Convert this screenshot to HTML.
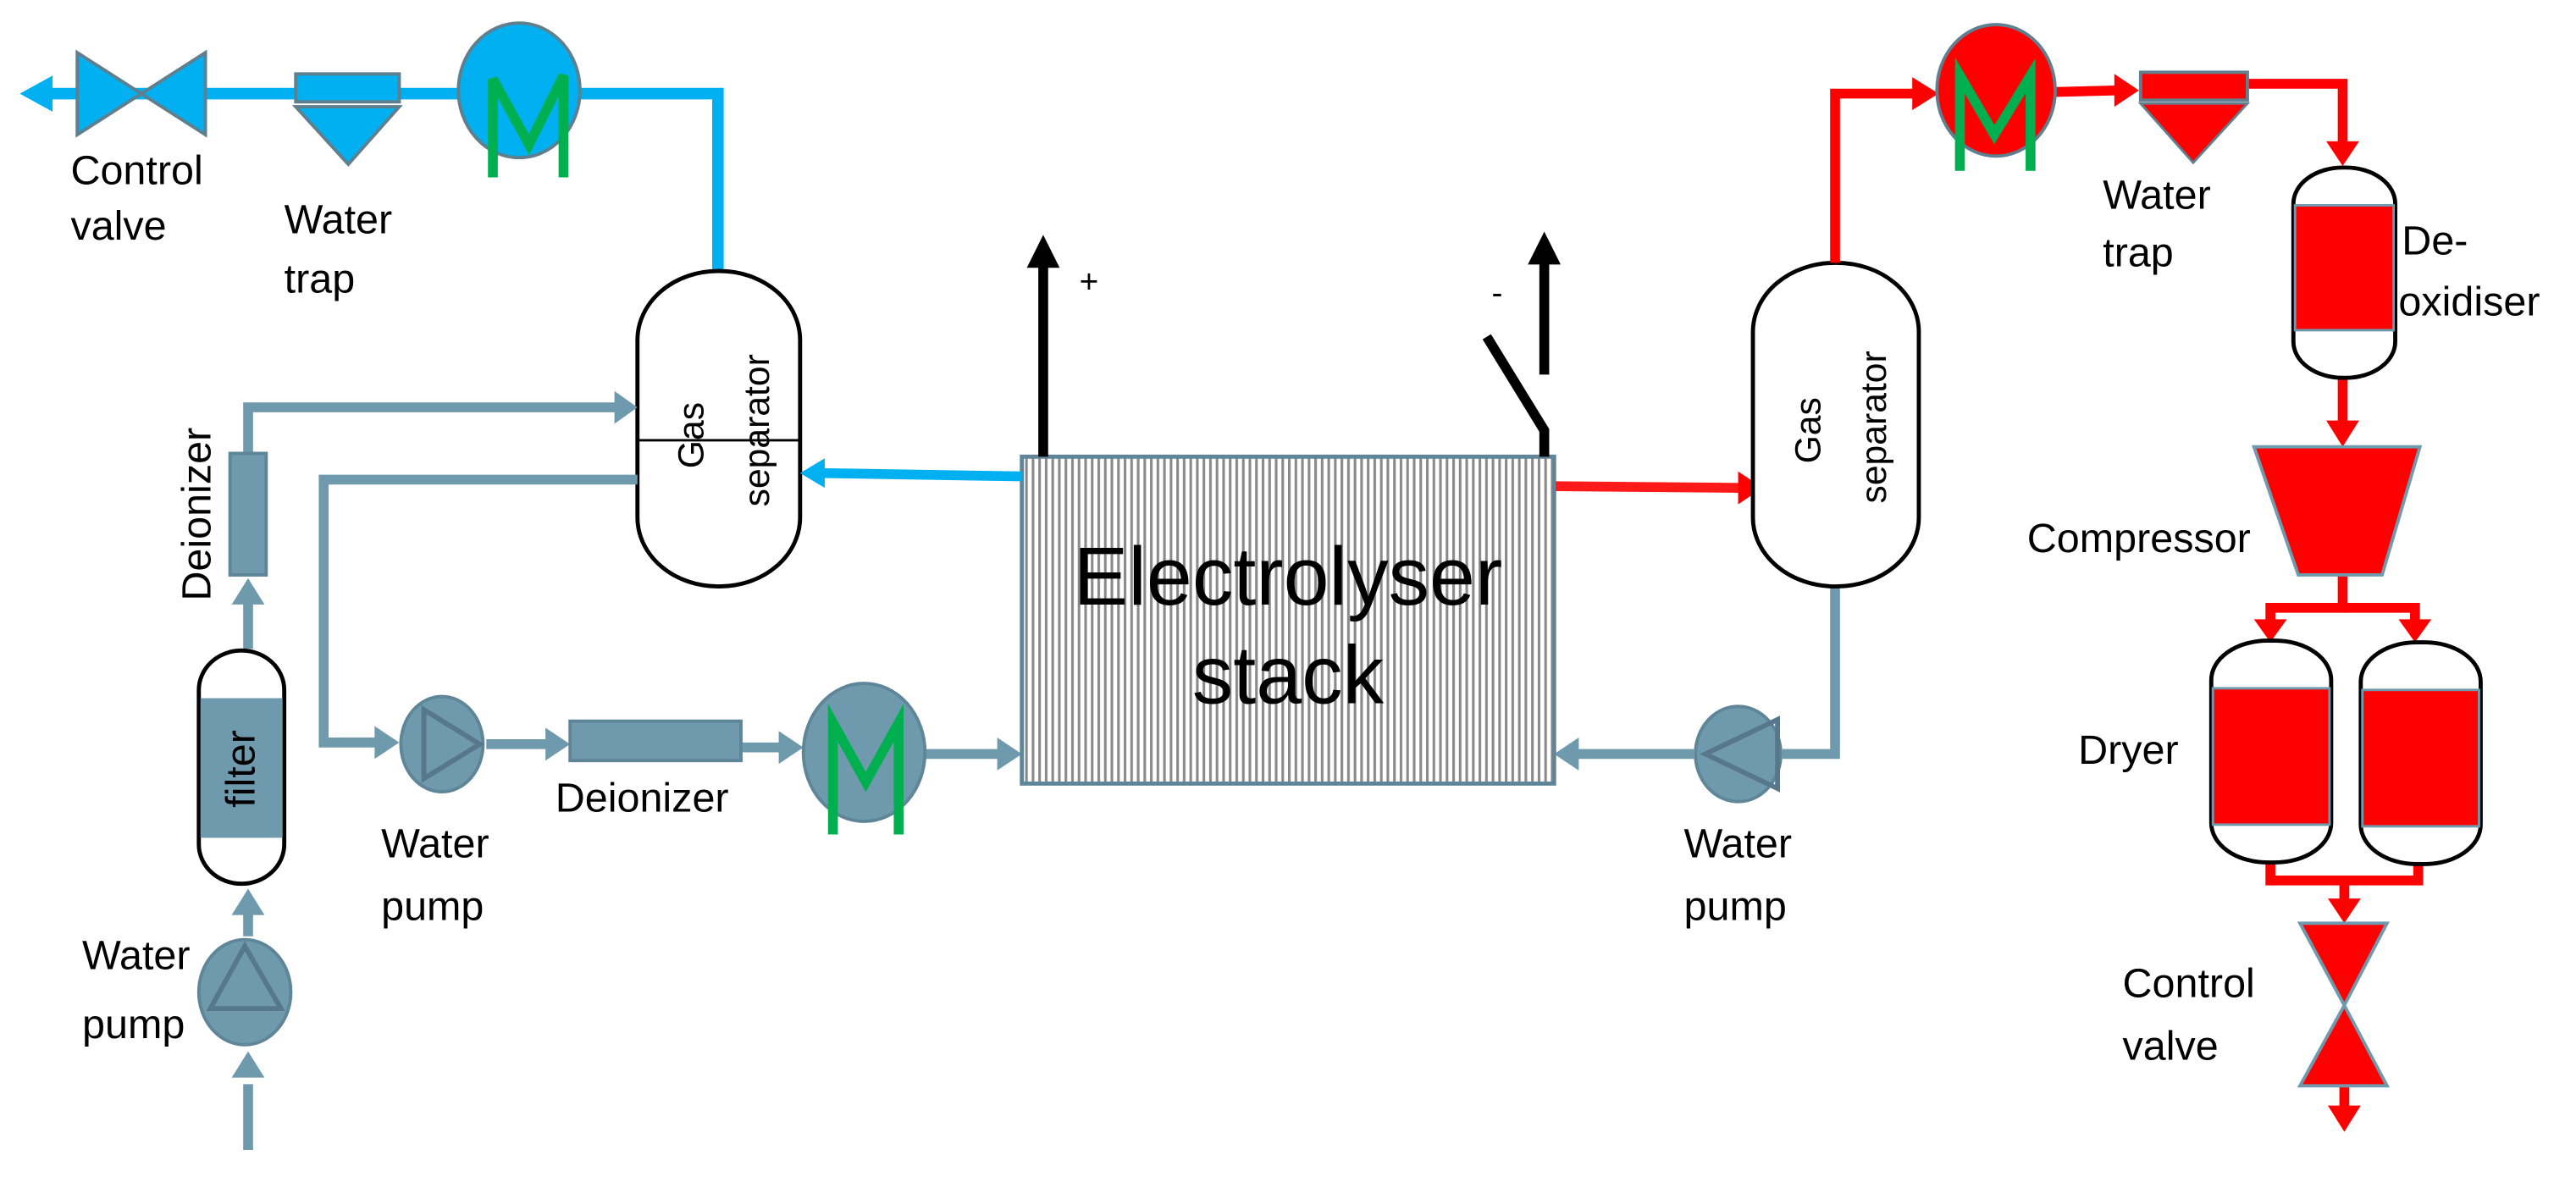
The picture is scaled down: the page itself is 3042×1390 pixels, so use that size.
<!DOCTYPE html>
<html><head><meta charset="utf-8"><style>html,body{margin:0;padding:0;background:#fff}svg{display:block}text{font-family:"Liberation Sans",sans-serif;fill:#000}</style></head><body>
<svg width="3042" height="1390" viewBox="0 0 1568 716.5" xmlns="http://www.w3.org/2000/svg">
<defs>
<pattern id="st" width="4" height="10" patternUnits="userSpaceOnUse"><rect width="4" height="10" fill="#fff"/><rect width="1.6" height="10" fill="#8a8a8a"/></pattern>
</defs>
<polyline points="30,57 437,57 437,170" fill="none" stroke="#00b0f0" stroke-width="7"/>
<polygon points="12,57 32,46 32,68" fill="#00b0f0"/>
<polygon points="47,32 86,57 47,82" fill="#00b0f0" stroke="#5f7f8f" stroke-width="2"/>
<polygon points="125,32 86,57 125,82" fill="#00b0f0" stroke="#5f7f8f" stroke-width="2"/>
<rect x="180" y="45" width="63" height="17" fill="#00b0f0" stroke="#5f7f8f" stroke-width="2"/>
<polygon points="180,65 243,65 212,100" fill="#00b0f0" stroke="#5f7f8f" stroke-width="2"/>
<ellipse cx="316" cy="55" rx="37" ry="41" fill="#00b0f0" stroke="#5f7f8f" stroke-width="2"/>
<polyline points="300,108 300,48 322,88 343,46 343,108" fill="none" stroke="#00b050" stroke-width="6"/>
<text x="43" y="112" font-size="25">Control</text>
<text x="43" y="146" font-size="25">valve</text>
<text x="173" y="142" font-size="25">Water</text>
<text x="173" y="178" font-size="25">trap</text>
<rect x="388" y="165" width="99" height="192" rx="49" ry="42" fill="#fff" stroke="#000" stroke-width="2.5"/>
<line x1="388" y1="268" x2="487" y2="268" stroke="#000" stroke-width="1.5"/>
<text transform="translate(428,265) rotate(-90)" font-size="22" text-anchor="middle">Gas</text>
<text transform="translate(468,262) rotate(-90)" font-size="22" text-anchor="middle">separator</text>
<g stroke="#6f9aae" stroke-width="6" fill="none">
<polyline points="151,276 151,248 376,248"/>
<polyline points="388,292 197,292 197,452 232,452"/>
<line x1="151" y1="395" x2="151" y2="365"/>
<line x1="151" y1="570" x2="151" y2="556"/>
<line x1="151" y1="700" x2="151" y2="660"/>
<line x1="296" y1="453" x2="335" y2="453"/>
<line x1="450" y1="455" x2="478" y2="455"/>
<line x1="563" y1="459" x2="610" y2="459"/>
<polyline points="1117,357 1117,459 1085,459"/>
<line x1="1031" y1="459" x2="958" y2="459"/>
</g>
<g fill="#6f9aae">
<polygon points="388,248 374,238 374,258"/>
<polygon points="151,352 141,368 161,368"/>
<polygon points="151,541 141,557 161,557"/>
<polygon points="151,640 141,656 161,656"/>
<polygon points="243,452 228,442 228,462"/>
<polygon points="347,453 332,443 332,463"/>
<polygon points="489,455 474,445 474,465"/>
<polygon points="622,459 607,449 607,469"/>
<polygon points="946,459 961,449 961,469"/>
</g>
<rect x="140" y="276" width="22" height="74" fill="#6f9aae" stroke="#5f8598" stroke-width="2"/>
<text transform="translate(128,313) rotate(-90)" font-size="25" text-anchor="middle">Deionizer</text>
<rect x="121" y="396" width="52" height="142" rx="26" ry="24" fill="#fff" stroke="#000" stroke-width="2.5"/>
<rect x="122" y="425" width="50" height="85" fill="#6f9aae"/>
<text transform="translate(155,468) rotate(-90)" font-size="25" text-anchor="middle">filter</text>
<ellipse cx="149" cy="604" rx="28" ry="32" fill="#6f9aae" stroke="#5f8598" stroke-width="2"/>
<polygon points="149,576 128,614 171,614" fill="none" stroke="#56788a" stroke-width="3"/>
<text x="50" y="590" font-size="25">Water</text>
<text x="50" y="632" font-size="25">pump</text>
<ellipse cx="269" cy="453" rx="25" ry="29" fill="#6f9aae" stroke="#5f8598" stroke-width="2"/>
<polygon points="258,432 292,453 258,474" fill="none" stroke="#56788a" stroke-width="3"/>
<text x="232" y="522" font-size="25">Water</text>
<text x="232" y="560" font-size="25">pump</text>
<rect x="347" y="439" width="104" height="24" fill="#6f9aae" stroke="#5f8598" stroke-width="2"/>
<text x="338" y="494" font-size="25">Deionizer</text>
<ellipse cx="526" cy="458" rx="37" ry="42" fill="#6f9aae" stroke="#5f8598" stroke-width="2"/>
<polyline points="507,508 507,440 527,476 547,440 547,508" fill="none" stroke="#00b050" stroke-width="6"/>
<ellipse cx="1058" cy="459" rx="26" ry="29" fill="#6f9aae" stroke="#5f8598" stroke-width="2"/>
<polygon points="1082,438 1038,459 1082,480" fill="none" stroke="#56788a" stroke-width="3"/>
<text x="1025" y="522" font-size="25">Water</text>
<text x="1025" y="560" font-size="25">pump</text>
<rect x="622" y="278" width="324" height="199" fill="url(#st)" stroke="#5f8598" stroke-width="2.5"/>
<text x="784" y="368" font-size="50" text-anchor="middle">Electrolyser</text>
<text x="784" y="428" font-size="50" text-anchor="middle">stack</text>
<line x1="635" y1="278" x2="635" y2="160" stroke="#000" stroke-width="6"/>
<polygon points="635,143 625,163 645,163" fill="#000"/>
<text x="657" y="178" font-size="20">+</text>
<polyline points="940,278 940,262 905,205" fill="none" stroke="#000" stroke-width="6"/>
<line x1="940" y1="228" x2="940" y2="158" stroke="#000" stroke-width="6"/>
<polygon points="940,141 930,161 950,161" fill="#000"/>
<text x="908" y="185" font-size="20">-</text>
<line x1="622" y1="290" x2="500" y2="288" stroke="#00b0f0" stroke-width="6"/>
<polygon points="487,288 502,279 502,297" fill="#00b0f0"/>
<line x1="947" y1="296" x2="1060" y2="297" stroke="#ff1a1a" stroke-width="6"/>
<polygon points="1073,297 1058,287 1058,307" fill="#ff0000"/>
<rect x="1067" y="160" width="101" height="197" rx="50" ry="42" fill="#fff" stroke="#000" stroke-width="2.5"/>
<text transform="translate(1108,262) rotate(-90)" font-size="22" text-anchor="middle">Gas</text>
<text transform="translate(1148,260) rotate(-90)" font-size="22" text-anchor="middle">separator</text>
<g stroke="#ff0000" stroke-width="6" fill="none">
<polyline points="1117,160 1117,57 1168,57"/>
<line x1="1250" y1="56" x2="1290" y2="55"/>
<polyline points="1368,51 1426,51 1426,88"/>
<line x1="1426" y1="231" x2="1426" y2="258"/>
<polyline points="1426,350 1426,370 1382,370 1382,380"/>
<polyline points="1426,370 1470,370 1470,380"/>
<polyline points="1382,525 1382,536 1472,536 1472,525"/>
<line x1="1427" y1="536" x2="1427" y2="550"/>
<line x1="1427" y1="660" x2="1427" y2="675"/>
</g>
<g fill="#ff0000">
<polygon points="1180,57 1164,47 1164,67"/>
<polygon points="1302,55 1287,45 1287,65"/>
<polygon points="1426,101 1416,86 1436,86"/>
<polygon points="1426,272 1416,256 1436,256"/>
<polygon points="1382,391 1372,377 1392,377"/>
<polygon points="1470,391 1460,377 1480,377"/>
<polygon points="1427,562 1417,547 1437,547"/>
<polygon points="1427,689 1417,673 1437,673"/>
</g>
<ellipse cx="1215" cy="55" rx="36" ry="40" fill="#ff0000" stroke="#5f7f8f" stroke-width="2"/>
<polyline points="1193,104 1193,46 1214,82 1236,46 1236,104" fill="none" stroke="#00b050" stroke-width="6"/>
<rect x="1303" y="44" width="65" height="17" fill="#ff0000" stroke="#5f7f8f" stroke-width="2"/>
<polygon points="1303,63 1368,63 1335,99" fill="#ff0000" stroke="#5f7f8f" stroke-width="1.5"/>
<text x="1280" y="127" font-size="25">Water</text>
<text x="1280" y="162" font-size="25">trap</text>
<rect x="1396" y="102" width="62" height="128" rx="30" ry="22" fill="#fff" stroke="#000" stroke-width="2.5"/>
<rect x="1397" y="125" width="60" height="76" fill="#ff0000" stroke="#6f9aae" stroke-width="1.5"/>
<text x="1462" y="155" font-size="25">De-</text>
<text x="1460" y="192" font-size="25">oxidiser</text>
<polygon points="1372,272 1473,272 1450,350 1399,350" fill="#ff0000" stroke="#6f9aae" stroke-width="2"/>
<text x="1370" y="336" font-size="25" text-anchor="end">Compressor</text>
<rect x="1346" y="390" width="73" height="135" rx="34" ry="24" fill="#fff" stroke="#000" stroke-width="2.5"/>
<rect x="1347" y="419" width="71" height="83" fill="#ff0000" stroke="#6f9aae" stroke-width="1.5"/>
<rect x="1437" y="391" width="73" height="135" rx="34" ry="24" fill="#fff" stroke="#000" stroke-width="2.5"/>
<rect x="1438" y="420" width="71" height="83" fill="#ff0000" stroke="#6f9aae" stroke-width="1.5"/>
<text x="1265" y="465" font-size="25">Dryer</text>
<polygon points="1400,562 1453,562 1427,612" fill="#ff0000" stroke="#6f9aae" stroke-width="2"/>
<polygon points="1400,661 1453,661 1427,612" fill="#ff0000" stroke="#6f9aae" stroke-width="2"/>
<text x="1292" y="607" font-size="25">Control</text>
<text x="1292" y="645" font-size="25">valve</text>
</svg>
</body></html>
